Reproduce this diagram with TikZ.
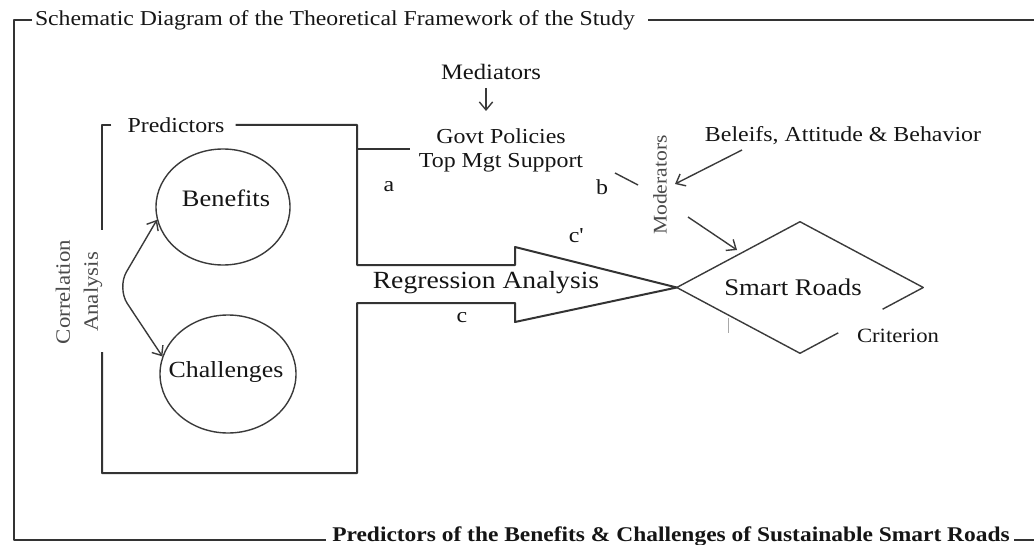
\documentclass[tikz,border=0pt]{standalone}
\usepackage{fontspec}
\setmainfont[FakeStretch=1.12]{Liberation Serif}
\usetikzlibrary{arrows.meta,shapes.geometric,calc}
\newcommand{\fsz}[2]{\fontsize{#1pt}{#2pt}\selectfont}
\definecolor{framegray}{HTML}{333333}
\definecolor{linegray}{HTML}{3A3A3A}
\definecolor{inkblack}{HTML}{151515}
\definecolor{softgray}{HTML}{4A4A4A}
\definecolor{faintgray}{HTML}{A8A8A8}

\begin{document}
\begin{tikzpicture}[x=0.75pt,y=-0.75pt,line join=round,
  frame/.style={draw=framegray,line width=1.5pt},
  thinline/.style={draw=linegray,line width=1.05pt},
  lbl/.style={inner sep=0pt,text=inkblack},
  barb/.style={-{Straight Barb[length=6pt,width=10pt]}},
  barbs/.style={{Straight Barb[length=6pt,width=10pt]}-{Straight Barb[length=6pt,width=10pt]}}]
\useasboundingbox (0,0) rectangle (1034,545);

% ---- outer frame with its two titles ----
\node[lbl,font=\fsz{15.9}{19}] (ttl) at (335,20)
  {Schematic Diagram of the Theoretical Framework of the Study};
\node[lbl,font=\bfseries\fsz{15.7}{19}] (btm) at (671,536)
  {Predictors of the Benefits \& Challenges of Sustainable Smart Roads};
\coordinate (otl) at (14,20);
\coordinate (obl) at (14,540);
\coordinate (otr) at (1034,20);
\coordinate (obr) at (1034,540);
\draw[frame] ($(ttl.west)+(-3,0)$) -- (otl) -- (obl) -- ($(btm.west)+(-6,4)$);
\draw[frame] ($(ttl.east)+(13,0)$) -- (otr);
\draw[frame] ($(btm.east)+(4,4)$) -- (obr);

% ---- predictors block ----
\node[lbl,font=\fsz{16}{19}] (pred) at (176,125) {Predictors};
\node[lbl,draw=linegray,line width=1.05pt,ellipse,minimum width=100.5pt,minimum height=87pt] (ben) at (223,207) {};
\node[lbl,font=\fsz{17.7}{21}] (bentxt) at (226,198) {Benefits};
\node[lbl,draw=linegray,line width=1.05pt,ellipse,minimum width=102pt,minimum height=88.5pt] (chal) at (228,374) {};
\node[lbl,font=\fsz{17.3}{21}] (chaltxt) at (226,372) {Challenges};
\node[lbl,rotate=90,align=center,font=\fsz{15.3}{21},text=softgray] (corr) at (79,292)
  {Correlation\\Analysis};
\draw[thinline,barbs,rounded corners=14pt] (ben.191) -- (117,288) -- (chal.165);

% ---- regression arrow joining the predictors to the criterion ----
\node[lbl,draw=none,diamond,minimum width=184.5pt,minimum height=98.25pt] (road) at (800,287.5) {};
\node[lbl,font=\fsz{17.9}{21}] (roadtxt) at (793,287) {Smart Roads};
\draw[frame] ($(pred.west)+(-16,0)$) -- (102,125) -- (102,230);
\draw[frame] (102,352) -- (102,473) -- (357,473) -- (357,303) -- (515,303) -- (515,322)
  -- (road.west) -- (515,247) -- (515,265) -- (357,265) -- (357,125) -- ($(pred.east)+(11,0)$);
\draw[frame] (357,149) -- (410,149);
\node[lbl,font=\fsz{18.5}{22}] (reg) at (486,283) {Regression Analysis};

% ---- path labels ----
\node[lbl,font=\fsz{16}{19}] (la) at (389,187) {a};
\node[lbl,font=\fsz{16}{19}] (lb) at (602,187) {b};
\node[lbl,font=\fsz{16}{19}] (lcp) at (576,236) {c\textquotesingle};
\node[lbl,font=\fsz{16}{19}] (lc) at (462,318) {c};

% ---- mediators ----
\node[lbl,font=\fsz{16.5}{19}] (med) at (491,72) {Mediators};
\node[lbl,align=center,font=\fsz{16}{18}] (gov) at (501,150) {Govt Policies\\Top Mgt Support};
\coordinate (medtop) at (486,88);
\coordinate (medbot) at (486,111);
\draw[thinline,barb] (medtop) -- (medbot);

% ---- moderators ----
\node[lbl,rotate=90,font=\fsz{14.5}{17},text=softgray] (mod) at (660,185) {Moderators};
\node[lbl,font=\fsz{16}{19}] (bel) at (843,136) {Beleifs, Attitude \& Behavior};
\coordinate (bstart) at (615,173);
\coordinate (bend) at (638,185);
\draw[thinline] (bstart) -- (bend);
\coordinate (belfoot) at (742,150);
\coordinate (modin) at (675,184);
\draw[thinline,barb] (belfoot) -- (modin);
\coordinate (modout) at (688,217);
\coordinate (roadin) at (737,250);
\draw[thinline,barb] (modout) -- (roadin);

% ---- criterion diamond ----
\draw[thinline] ($(road.east)!0.33!(road.south)$) -- (road.east) -- (road.north) -- (road.west)
  -- (road.south) -- ($(road.east)!0.69!(road.south)$);
\node[lbl,font=\fsz{15.2}{18}] (crit) at (898,336) {Criterion};
\coordinate (tickA) at (728,318);
\coordinate (tickB) at (728,333);
\draw[draw=faintgray,line width=0.6pt] (tickA) -- (tickB);
\end{tikzpicture}
\end{document}
